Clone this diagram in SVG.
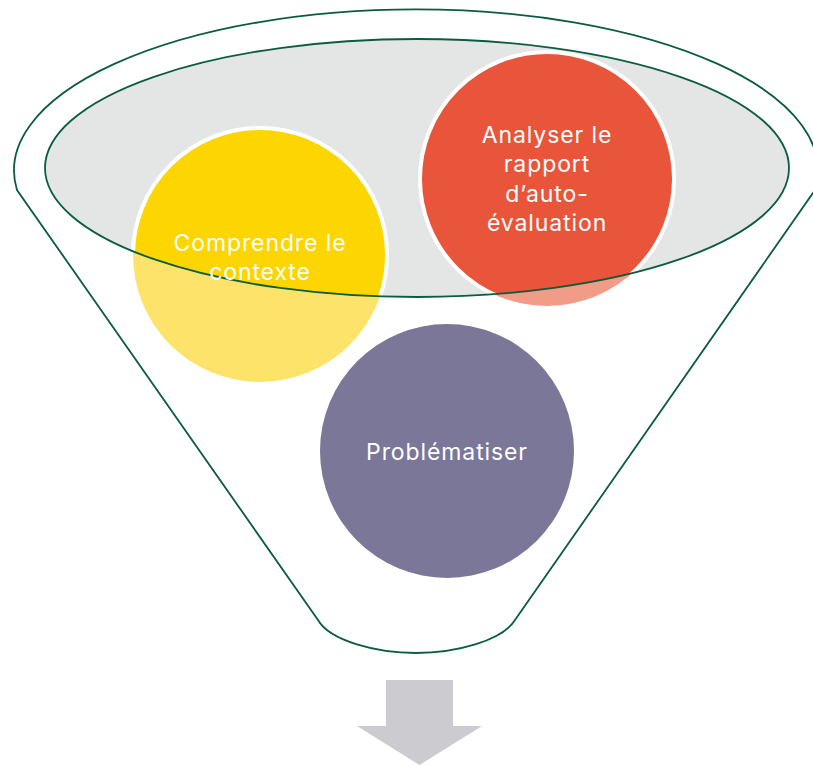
<svg xmlns="http://www.w3.org/2000/svg" width="813" height="765" viewBox="0 0 813 765">
<style>
.ln{fill:none;stroke:#0b5c3f;stroke-width:1.8}
.t{font-family:Inter,"Open Sans","Liberation Sans",sans-serif;font-size:23px;letter-spacing:0.9px;fill:#ffffff;text-anchor:middle}
</style>
<defs>
<clipPath id="inner"><ellipse cx="417" cy="168" rx="372" ry="129"/></clipPath>
</defs>
<rect width="813" height="765" fill="#ffffff"/>
<g id="funnel">
<path class="ln" d="M17,190 A402,161 0 1 1 815,190 L515,620 C502,641 455,653 416,653 C377,653 330,641 318,620 Z" fill="#ffffff"/>
<ellipse cx="417" cy="168" rx="372" ry="129" fill="#e4e6e5"/>
</g>
<g id="node-contexte">
<circle cx="260" cy="255" r="127" fill="#fde36a"/>
<circle cx="260" cy="255" r="127" fill="#fdd500" stroke="#ffffff" stroke-width="4" clip-path="url(#inner)"/>
</g>
<g id="node-analyser">
<circle cx="547" cy="179" r="127" fill="#f29b86"/>
<circle cx="547" cy="179" r="127" fill="#e9553a" stroke="#ffffff" stroke-width="4" clip-path="url(#inner)"/>
</g>
<g id="node-problematiser">
<circle cx="447" cy="451" r="127" fill="#7a7799"/>
</g>
<g id="connectors">
<ellipse class="ln" cx="417" cy="168" rx="372" ry="129"/>
<path d="M386,680 H453 V726 H482 L419.5,765 L357,726 H386 Z" fill="#cbcbd0"/>
</g>
<g id="labels">
<text class="t"><tspan x="260" y="251">Comprendre le</tspan><tspan x="260" y="280">contexte</tspan></text>
<text class="t"><tspan x="547" y="143">Analyser le</tspan><tspan x="547" y="172">rapport</tspan><tspan x="547" y="202">d’auto-</tspan><tspan x="547" y="231">évaluation</tspan></text>
<text class="t" x="447" y="460">Problématiser</text>
</g>
</svg>
